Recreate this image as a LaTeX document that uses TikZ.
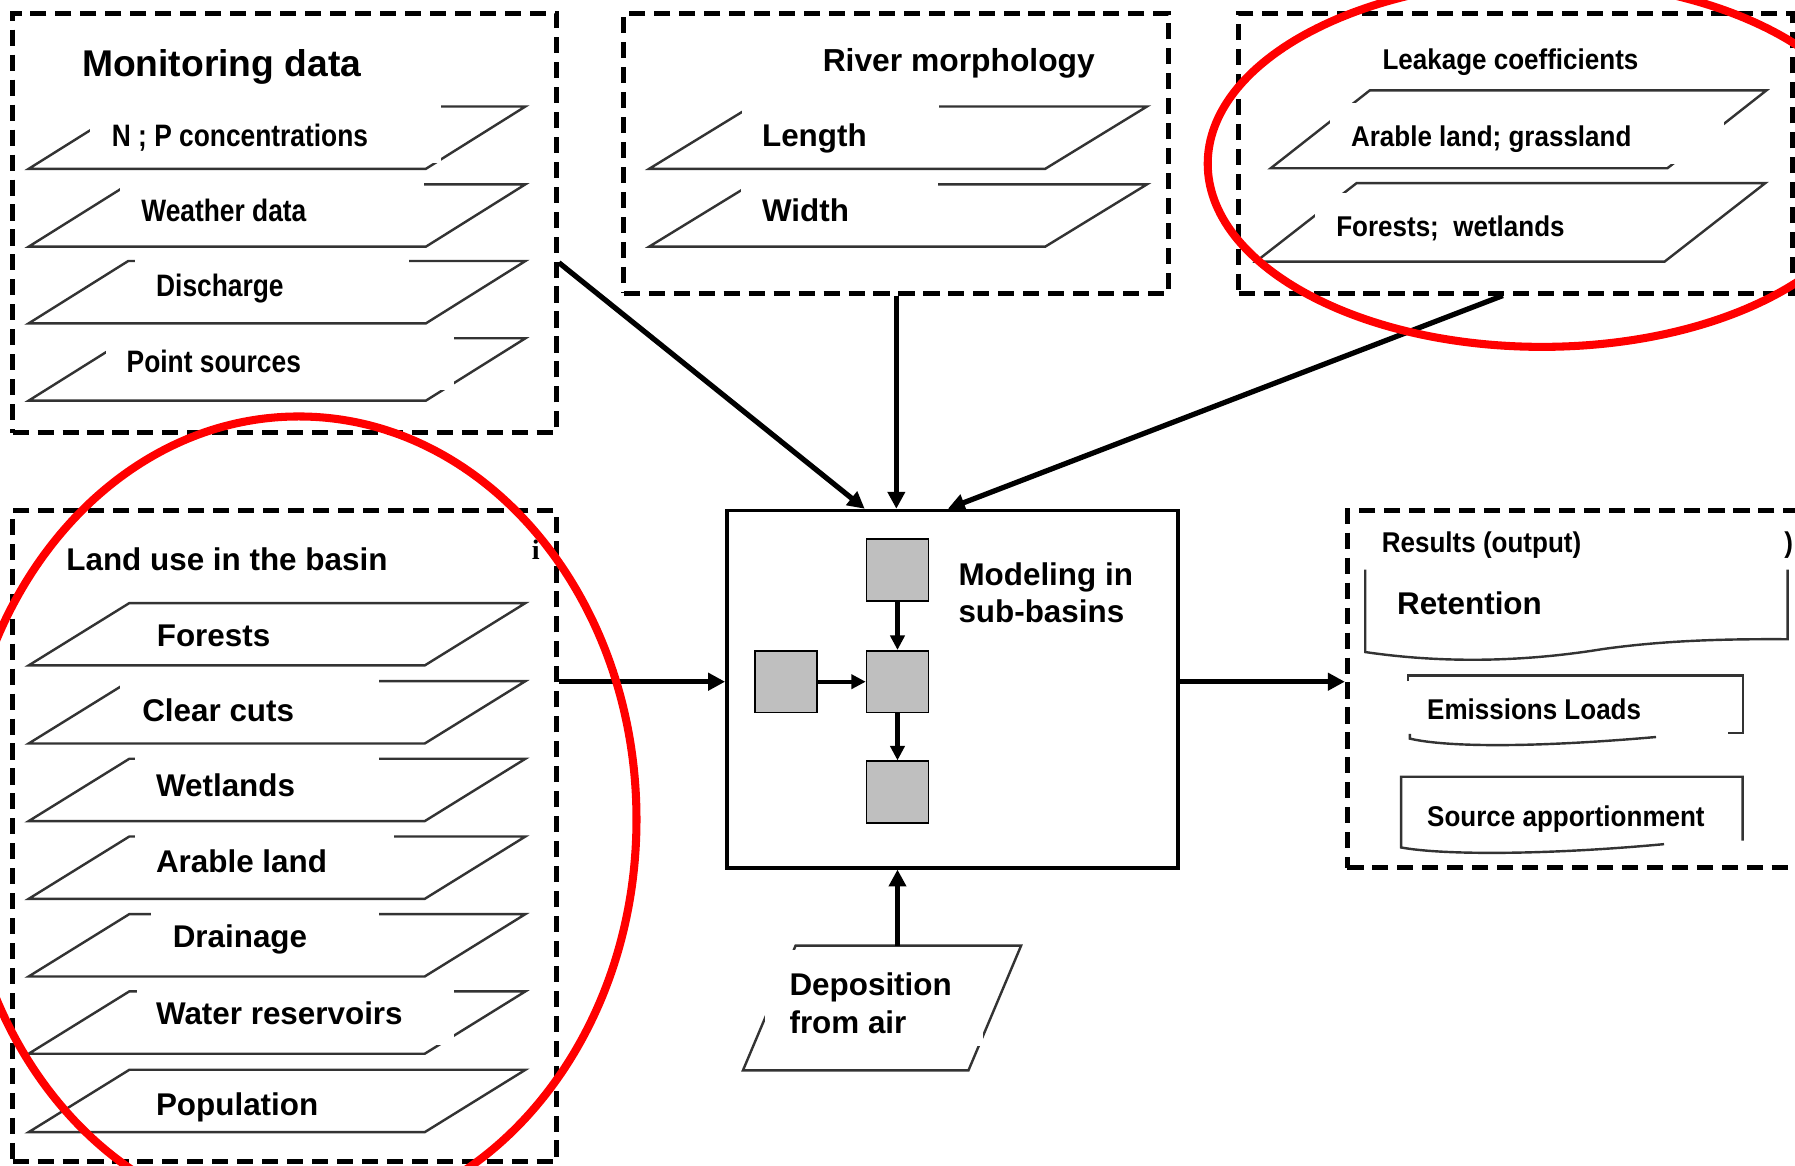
\documentclass[tikz,border=0pt]{standalone}
\usepackage{fontspec}
\setmainfont{Liberation Sans}
\newfontfamily\condfont{Liberation Sans}[FakeStretch=0.85]
\newfontfamily\semifont{Liberation Sans}[FakeStretch=0.91]
\newfontfamily\serifpart{Liberation Serif}
\usepackage{tikz}
\usetikzlibrary{positioning,arrows.meta,calc,fit}

\tikzset{
  groupbox/.style={draw, line width=1.25pt, dash pattern=on 4pt off 2.2pt, inner sep=0pt},
  layerline/.style={draw=black!80, line width=0.6pt},
  doc/.style={draw=black!80, line width=0.6pt},
  patch/.style={fill=white},
  lbl/.style={anchor=base west, inner sep=0pt, font={\bfseries\fontsize{7.8}{9.4}\selectfont}},
  cond/.style={anchor=base west, inner sep=0pt, font={\condfont\bfseries\fontsize{7.7}{9}\selectfont}},
  semi/.style={anchor=base west, inner sep=0pt, font={\semifont\bfseries\fontsize{7.1}{8.5}\selectfont}},
  subbox/.style={draw, fill=black!25, line width=0.4pt, minimum size=0.54cm, inner sep=0pt},
  flow/.style={line width=1.3pt, -{Triangle[length=4.2pt,width=4.2pt]}},
  innerflow/.style={line width=1pt, -{Triangle[length=3.6pt,width=3.5pt]}},
  redring/.style={draw=red, line width=2pt},
}

\begin{document}
\begin{tikzpicture}[x=0.01cm, y=-0.01cm, node distance=0.42cm]
\useasboundingbox (0,0) rectangle (1568,1018);
\clip (0,0) rectangle (1568,1018);

% Input groups
\node[groupbox, fit={(11,12) (486,378)}] (monbox) {};
\node[groupbox, fit={(545,12) (1021,256)}] (rivbox) {};
\node[groupbox, fit={(1082,12) (1566,256)}] (leakbox) {};
\node[groupbox, fit={(11,446) (486,1015)}] (landbox) {};
\node[groupbox, fit={(1177,446) (1600,758)}] (resbox) {};

% Monitoring data
\node[lbl, font={\bfseries\fontsize{9.25}{11}\selectfont}] (montitle) at (71,66.4) {Monitoring data};
\foreach \yb/\pl/\pr/\pb/\txt/\tx/\ty [count=\i] in {
    147.5/79/385/142/N ; P concentrations/97/128,
    215.5/105/370/207/Weather data/122.8/193.6,
    282.5/118/357/274/Discharge/135.7/259,
    350/93/397/341/Point sources/110/325.6}{
  \draw[layerline] (25,\yb) -- ++(347,0) -- ++(87,-54.5) -- ++(-347,0) -- cycle;
  \fill[patch] (\pl,\yb-59) rectangle (\pr,\pb);
  \node[cond] (mon\i) at (\tx,\ty) {\txt};
}

% River morphology
\node[lbl, font={\bfseries\fontsize{7.9}{9.4}\selectfont}] (rivtitle) at (718,62.6) {River morphology};
\foreach \yb/\pl/\pr/\pb/\txt/\ty [count=\i] in {
    147.5/648/820/140/Length/128,
    215.5/647/819/207/Width/193.6}{
  \draw[layerline] (567,\yb) -- ++(346,0) -- ++(89,-54.5) -- ++(-346,0) -- cycle;
  \fill[patch] (\pl,\yb-59) rectangle (\pr,\pb);
  \node[lbl] (riv\i) at (665,\ty) {\txt};
}

% Leakage coefficients
\node[semi] (leaktitle) at (1207,61) {Leakage coefficients};
\draw[layerline] (1110,147) -- ++(346.5,0) -- ++(86.5,-68) -- ++(-346.5,0) -- cycle;
\fill[patch] (1162,90) rectangle (1506,143);
\node[semi] (leak1) at (1179.5,128) {Arable land; grassland};
\draw[layerline] (1097,228.6) -- ++(357,0) -- ++(88,-68.6) -- ++(-357,0) -- cycle;
\fill[patch] (1149,169) rectangle (1456,221);
\node[semi] (leak2) at (1166.6,206.8) {Forests;~ wetlands};

% Land use
\node[lbl] (landtitle) at (57.3,498) {Land use in the basin};
\node[anchor=base west, inner sep=0pt, font={\serifpart\bfseries\fontsize{7}{8}\selectfont}] (stray) at (464,489) {i};
\foreach \yb/\pl/\pr/\txt/\tx/\ty [count=\i] in {
    581.3/0/0/Forests/136.3/564.6,
    649.5/105/331/Clear cuts/123.6/630.2,
    717.3/118/331/Wetlands/135.6/696.2,
    785.2/118/344/Arable land/135.6/761.8,
    853/132/331/Drainage/150.2/827.8,
    920.5/120/397/Water reservoirs/135.6/895.2,
    989/0/0/Population/135.6/974.2}{
  \draw[layerline] (25,\yb) -- ++(346,0) -- ++(88,-54.5) -- ++(-346,0) -- cycle;
  \fill[patch] (\pl,\yb-58.5) rectangle (\pr,\yb-8);
  \node[lbl] (land\i) at (\tx,\ty) {\txt};
}

% Model
\node[draw, line width=0.9pt, inner sep=0pt, fit={(635,446) (1029,758)}] (model) {};
\node[subbox] (sqmid) at (784,595.5) {};
\node[subbox, above=of sqmid] (sqtop) {};
\node[subbox, left=of sqmid] (sqleft) {};
\node[subbox, below=0.41cm of sqmid] (sqbot) {};
\draw[innerflow] (sqtop) -- (sqmid);
\draw[innerflow] (sqleft) -- (sqmid);
\draw[innerflow] (sqmid) -- (sqbot);
\node[lbl, anchor=north west, align=left] (modtxt) at (836.6,490.5) {Modeling in\\sub-basins};

% Deposition
\draw[doc] (649,935) -- (695,826) -- (892,826) -- (846,935) -- cycle;
\fill[patch] (668,830) rectangle (859,914);
\coordinate (deptop) at (784,826);
\node[lbl, anchor=north west, align=left, font={\bfseries\fontsize{7.8}{9.25}\selectfont}] (deptxt) at (689,849.3) {Deposition\\from air};

% Results
\node[semi] (restitle) at (1206.4,482.8) {Results (output)};
\node[semi] (resbrace) at (1558,482.8) {)};
\draw[doc] (1192.6,497.5) -- (1192.6,569.6) .. controls (1250,578) and (1320,580) .. (1400,567)
  .. controls (1450,560) and (1500,558) .. (1561.6,558.4) -- (1561.6,497.5);
\node[lbl] (ret) at (1219.7,537.2) {Retention};
\draw[doc] (1230,595) -- (1230,590.2) -- (1522.8,590.2) -- (1522.8,640.2) -- (1509.6,640.2);
\draw[doc] (1231.6,641) -- (1231.6,645.2) .. controls (1260,652) and (1330,654) .. (1446.6,643.8);
\node[semi] (emis) at (1246,628.5) {Emissions Loads};
\draw[doc] (1522.2,734.4) -- (1522.2,678.5) -- (1224,678.5) -- (1224,740.3)
  .. controls (1260,747) and (1350,747) .. (1453.6,737.4);
\node[semi] (src) at (1246,722) {Source apportionment};

% Flows
\draw[flow] ($(monbox.north east)!0.593!(monbox.south east)$) -- ($(model.north west)!0.307!(model.north east)$);
\draw[flow] (rivbox.south) -- (rivbox.south |- model.north);
\draw[flow] ($(leakbox.south west)!0.477!(leakbox.south east)$) -- ($(model.north west)!0.49!(model.north east)$);
\draw[flow] (landbox.east |- sqmid) -- (model.west |- sqmid);
\draw[flow] (model.east |- sqmid) -- (resbox.west |- sqmid);
\draw[flow] (deptop) -- (deptop |- model.south);

% Highlights
\draw[redring] (261,715.8) ellipse [x radius=295, y radius=352];
\draw[redring] (1347,143) ellipse [x radius=292, y radius=160];
\end{tikzpicture}
\end{document}
